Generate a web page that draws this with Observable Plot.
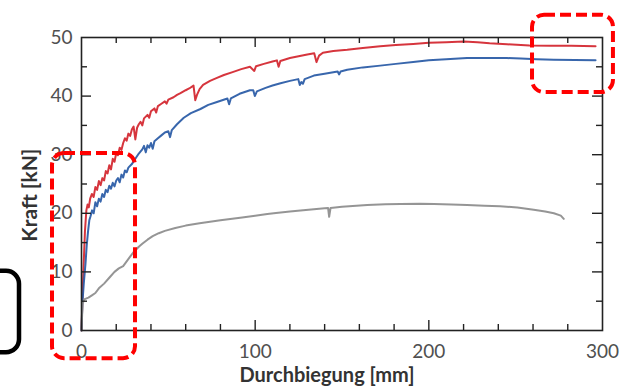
<!DOCTYPE html>
<html>
<head>
<meta charset="utf-8">
<script src="https://cdn.jsdelivr.net/npm/d3@7"></script>
<script src="https://cdn.jsdelivr.net/npm/@observablehq/plot@0.6"></script>
<style>
  html, body { margin: 0; padding: 0; background: #fff; }
  #chart svg { display: block; }
</style>
</head>
<body>
<div id="chart"></div>
<script>
// Durchbiegung [mm] / Kraft [kN]
const redX = [0,0.5,1.2,2,2.8,3.5,4.2,5,6,7,8,9,10,11,12,13,14,15,16,17,18,19,20,21,22,23,24,25,26,27,28,29,30,31,32,33,34,35,36,38,39,40,42,43,44,46,48,49,50,53,55,57,60,62,64.5,65.5,66.5,68,70,74,78,82,87,92,97,99.5,100.5,105,110,112.5,113.5,114.5,120,125,130,134,135.3,136.8,139,145,153,162,172,181,191,200,210,220,228,235,245,258,270,282,296];
const redY = [0,5,11,17,20.5,21.5,21,22.5,23.3,22.8,24.5,24,25.5,24.8,26,25.6,27.2,26.8,28.2,27.5,29.3,28.8,30.3,29.9,31.2,30.8,32,32.8,32.4,33.6,33.2,34.3,34.8,32.6,34.6,35.2,35.6,35,36.2,36.8,36.3,37.4,37.9,37.2,38.3,38.7,39.1,38.7,39.4,39.8,40.2,40.5,41,41.3,41.8,39.3,40.2,41.2,41.9,42.6,43.1,43.6,44.1,44.6,45,44.3,45.1,45.5,45.9,46.1,45,46,46.5,46.8,47.1,47.3,45.8,46.9,47.4,47.7,47.9,48.2,48.5,48.7,48.9,49.1,49.2,49.3,49.2,49,48.85,48.65,48.6,48.6,48.5];

const blueX = [0,0.5,1.3,2.3,3,3.8,4.5,5.2,6.1,7,8,9,10,11,12,13,14,15,16,17,18,19,20,21,22,23,24,25,26,27,29,31,33,35,36,37,38,39,40,41,42,44,46,48,50,51,52,55,58.9,63,68.5,73,78,84,85,86,91,97,98.9,99.8,101,106,110,114.6,120,124.8,125.7,126.6,127.5,128.5,133.8,140,147.5,148.3,149.2,153,162,172,181,191,200,210,222,234,245,253,262,272,284,296];
const blueY = [0,4.6,8,11.4,14.5,17,18.8,19.5,20.5,20,21.9,21.2,22.5,22,23.3,22.8,24,23.6,24.7,24.2,25.2,24.6,25.6,26,25.3,26.6,26.1,27.3,27,27.8,28.4,29.3,30.2,30.9,31.5,30.4,31.6,31.2,32,31,32.3,32.8,33.3,33.8,34,33,34.2,35.2,36.3,37.1,37.8,38.5,39,39.6,38.6,39.6,40.4,41,41,40,40.8,41.4,41.8,42.2,42.6,42.9,41.9,42.4,42.1,42.9,43.5,43.8,44.2,43.7,44.2,44.5,44.9,45.2,45.5,45.8,46.1,46.3,46.5,46.5,46.5,46.4,46.3,46.2,46.15,46.1];

const grayX = [0,0.6,1.5,4,6,8,10,13,16,19,21.5,24,26,28,30,33,35,38,41,44.5,48,54,60,68,73,80,92.5,100,107,112,120,130.7,140,142,142.6,143.4,150,164.5,175,183.7,195,203,213,222,232,241,251,260.4,267,272,276,277.7];
const grayY = [0,4.5,5.3,5.6,6,6.4,7.2,8,9,10,10.6,11,11.8,12.6,13.4,14.3,14.8,15.5,16.1,16.6,17,17.5,17.9,18.3,18.5,18.8,19.3,19.6,19.9,20.05,20.3,20.6,20.85,20.9,19.4,20.9,21.1,21.4,21.55,21.6,21.65,21.6,21.5,21.4,21.3,21.2,21,20.6,20.3,20,19.6,19.05];

const seriesNames = ["rot", "blau", "grau"];
const seriesColors = ["#d42a33", "#2d5ea8", "#8f8f8f"];

const xTickLabels = [0, 100, 200, 300];
const yTickLabels = [0, 10, 20, 30, 40, 50];
const xMajorTicks = [100, 200];
const xMinorTicks = [20, 40, 60, 80, 120, 140, 160, 180, 220, 240, 260, 280];
const yMajorTicks = [10, 20, 30, 40];
const yMinorTicks = [5, 15, 25, 35, 45];

const xLabel = "Durchbiegung [mm]";
const yLabel = "Kraft [kN]";
const yLabelCenter = 23.1; // Kraft value at which the y title is centred

// annotation boxes (data units)
const redBoxes = [
  {x1: -16.7, x2: 31.1, y1: -4.8, y2: 30.2},
  {x1: 259.7, x2: 306.3, y1: 40.6, y2: 53.8}
];
const blackBoxes = [
  {x1: -62, x2: -35.7, y1: -3.8, y2: 10.1}
];

const toRows = (xs, ys, name) => xs.map((x, i) => ({x, y: ys[i], name}));
const rows = [
  ...toRows(redX, redY, seriesNames[0]),
  ...toRows(blueX, blueY, seriesNames[1]),
  ...toRows(grayX, grayY, seriesNames[2])
];

const W = 624, H = 390;
const mL = 81, mR = 22, mT = 37, mB = 60;
const fw = W - mL - mR, fh = H - mT - mB;
const font = "Lato, 'Open Sans', sans-serif";

const chart = Plot.plot({
  width: W, height: H,
  marginLeft: mL, marginRight: mR, marginTop: mT, marginBottom: mB,
  style: {fontFamily: font, background: "#fff", overflow: "visible"},
  x: {domain: [0, 300]},
  y: {domain: [0, 50]},
  color: {domain: seriesNames, range: seriesColors},
  marks: [
    Plot.line(rows, {x: "x", y: "y", z: "name", stroke: "name", strokeWidth: 2, strokeOpacity: 0.95, curve: "linear"}),
    // inward ticks: bottom & top
    Plot.tickX(xMajorTicks, {x: d => d, insetTop: fh - 10, stroke: "#222", strokeWidth: 1.4}),
    Plot.tickX(xMinorTicks, {x: d => d, insetTop: fh - 6, stroke: "#222", strokeWidth: 1.4}),
    Plot.tickX(xMajorTicks, {x: d => d, insetBottom: fh - 10, stroke: "#222", strokeWidth: 1.4}),
    Plot.tickX(xMinorTicks, {x: d => d, insetBottom: fh - 6, stroke: "#222", strokeWidth: 1.4}),
    // inward ticks: left & right
    Plot.tickY(yMajorTicks, {y: d => d, insetRight: fw - 10, stroke: "#222", strokeWidth: 1.4}),
    Plot.tickY(yMinorTicks, {y: d => d, insetRight: fw - 6, stroke: "#222", strokeWidth: 1.4}),
    Plot.tickY(yMajorTicks, {y: d => d, insetLeft: fw - 10, stroke: "#222", strokeWidth: 1.4}),
    Plot.tickY(yMinorTicks, {y: d => d, insetLeft: fw - 6, stroke: "#222", strokeWidth: 1.4}),
    Plot.frame({stroke: "#222", strokeWidth: 1.6}),
    Plot.axisX({ticks: xTickLabels, tickSize: 0, tickPadding: 14, fontSize: 19, fill: "#505050", label: null, tickFormat: d => String(d)}),
    Plot.axisY({ticks: yTickLabels, tickSize: 0, tickPadding: 9, fontSize: 19, fill: "#505050", label: null, tickFormat: d => String(d)}),
    Plot.text([xLabel], {text: d => d, frameAnchor: "bottom", dy: 45, dx: -15, fontSize: 20, fontWeight: "bold", fill: "#333", lineAnchor: "middle"}),
    Plot.text([yLabel], {text: d => d, x: () => 0, y: () => yLabelCenter, dx: -51, rotate: -90, fontSize: 21, fontWeight: "bold", fill: "#333", textAnchor: "middle", lineAnchor: "middle"}),
    // annotation boxes
    Plot.rect(redBoxes, {x1: "x1", x2: "x2", y1: "y1", y2: "y2", fill: "none", stroke: "#ff0000", strokeWidth: 4, strokeDasharray: "11,5", rx: 12}),
    Plot.rect(blackBoxes, {x1: "x1", x2: "x2", y1: "y1", y2: "y2", fill: "none", stroke: "#000", strokeWidth: 4.5, rx: 13})
  ]
});
document.getElementById("chart").append(chart);
</script>
</body>
</html>
